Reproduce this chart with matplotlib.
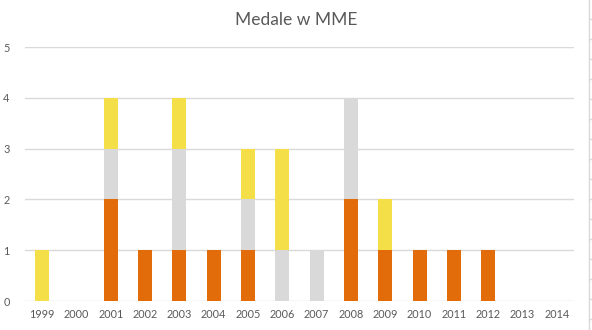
import numpy as np
import matplotlib.pyplot as plt

years = ['1999', '2000', '2001', '2002', '2003', '2004', '2005', '2006',
         '2007', '2008', '2009', '2010', '2011', '2012', '2013', '2014']
orange = [0, 0, 2, 1, 1, 1, 1, 0, 0, 2, 1, 1, 1, 1, 0, 0]
grey = [0, 0, 1, 0, 2, 0, 1, 1, 1, 2, 0, 0, 0, 0, 0, 0]
yellow = [1, 0, 1, 0, 1, 0, 1, 2, 0, 0, 1, 0, 0, 0, 0, 0]

plt.rcParams['font.family'] = ['Lato', 'DejaVu Sans']
txt = '#595959'
line = '#d9d9d9'

fig = plt.figure(figsize=(5.92, 3.30), dpi=100)
ax = fig.add_axes([25/592, 29/330, 549/592, 254/330])

x = np.arange(len(years))
o = np.array(orange)
g = np.array(grey)
y = np.array(yellow)
w = 0.41
ax.bar(x, o, w, color='#e36c0a', zorder=2)
ax.bar(x, g, w, bottom=o, color='#d9d9d9', zorder=2)
ax.bar(x, y, w, bottom=o + g, color='#f5df48', zorder=2)

ax.set_xlim(-0.5, len(years) - 0.5)
ax.set_ylim(0, 5)
ax.set_yticks(range(6))
ax.set_xticks(x)
ax.set_xticklabels(years)
ax.yaxis.grid(True, color=line, lw=1, zorder=0)
for s in ax.spines.values():
    s.set_visible(False)
ax.tick_params(length=0, colors=txt, labelsize=7.8)
ax.tick_params(axis='y', pad=11)
ax.tick_params(axis='x', pad=6)

fig.text(0.5, 1 - 20/330, 'Medale w MME', ha='center', va='center',
         fontsize=12.5, color=txt)

# sheet border on the right
fig.add_artist(plt.Line2D([589/592, 589/592], [0, 1], color=line, lw=1))
for py in range(19, 330, 20):
    fig.add_artist(plt.Line2D([589/592, 1], [1 - py/330] * 2, color=line, lw=1))

fig.savefig('out.png', dpi=100)
